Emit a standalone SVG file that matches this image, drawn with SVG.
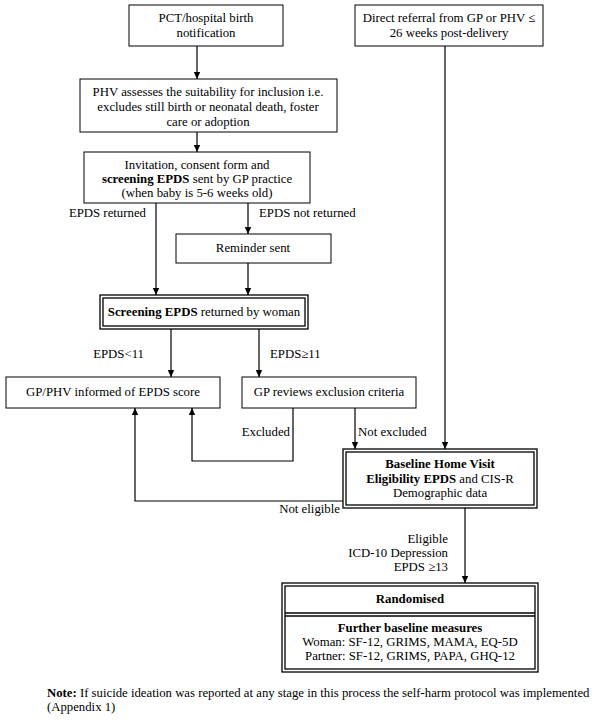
<svg xmlns="http://www.w3.org/2000/svg" width="600" height="720" viewBox="0 0 600 720">
<style>
text{font-family:"Liberation Serif","Times New Roman",serif;font-size:12.8px;fill:#000}
.c{text-anchor:middle}
.e{text-anchor:end}
.b{font-weight:bold}
.box{fill:#fff;stroke:#000;stroke-width:1}
.dbl{fill:none;stroke:#000;stroke-width:1.3}
.ln{fill:none;stroke:#000;stroke-width:1.2}
</style>
<defs>
<marker id="ah" markerWidth="8" markerHeight="8" refX="7" refY="4" orient="auto" markerUnits="userSpaceOnUse">
<path d="M0,0.8 L7,4 L0,7.2 Z" fill="#000"/>
</marker>
</defs>
<rect width="600" height="720" fill="#fff"/>
<g id="connectors">
<line class="ln" x1="197" y1="46" x2="197" y2="79" marker-end="url(#ah)"/>
<line class="ln" x1="445" y1="46" x2="445" y2="449" marker-end="url(#ah)"/>
<line class="ln" x1="197" y1="132" x2="197" y2="152" marker-end="url(#ah)"/>
<line class="ln" x1="156" y1="203" x2="156" y2="295" marker-end="url(#ah)"/>
<line class="ln" x1="248" y1="203" x2="248" y2="234" marker-end="url(#ah)"/>
<line class="ln" x1="248" y1="263" x2="248" y2="295" marker-end="url(#ah)"/>
<line class="ln" x1="171" y1="329" x2="171" y2="377" marker-end="url(#ah)"/>
<line class="ln" x1="259" y1="329" x2="259" y2="377" marker-end="url(#ah)"/>
<polyline class="ln" points="293,408 293,461 192,461 192,408" marker-end="url(#ah)"/>
<line class="ln" x1="355" y1="408" x2="355" y2="449" marker-end="url(#ah)"/>
<polyline class="ln" points="343,501 135,501 135,408" marker-end="url(#ah)"/>
<line class="ln" x1="465" y1="508" x2="465" y2="583" marker-end="url(#ah)"/>
<text x="146" y="217" class="e">EPDS returned</text>
<text x="259" y="217">EPDS not returned</text>
<text x="144" y="358" class="e">EPDS&lt;11</text>
<text x="270" y="358">EPDS≥11</text>
<text x="290" y="436" class="e">Excluded</text>
<text x="358" y="436">Not excluded</text>
<text x="340" y="513" class="e">Not eligible</text>
<text x="448" y="543" class="e">Eligible</text>
<text x="448" y="557" class="e">ICD-10 Depression</text>
<text x="448" y="571" class="e">EPDS ≥13</text>
</g>
<g id="n-pct">
<rect class="box" x="129" y="5" width="154" height="41"/>
<text x="206" y="22" class="c">PCT/hospital birth</text>
<text x="206" y="37" class="c">notification</text>
</g>
<g id="n-direct">
<rect class="box" x="355" y="5" width="188" height="41"/>
<text x="449" y="22" class="c">Direct referral from GP or PHV ≤</text>
<text x="449" y="37" class="c">26 weeks post-delivery</text>
</g>
<g id="n-phv">
<rect class="box" x="80" y="79" width="257" height="53"/>
<text x="208" y="96" class="c">PHV assesses the suitability for inclusion i.e.</text>
<text x="208" y="111" class="c">excludes still birth or neonatal death, foster</text>
<text x="208" y="126" class="c">care or adoption</text>
</g>
<g id="n-invite">
<rect class="box" x="84" y="152" width="226" height="51"/>
<text x="197" y="169" class="c">Invitation, consent form and</text>
<text x="197" y="183" class="c"><tspan class="b">screening EPDS</tspan> sent by GP practice</text>
<text x="197" y="197" class="c">(when baby is 5-6 weeks old)</text>
</g>
<g id="n-reminder">
<rect class="box" x="176" y="234" width="155" height="29"/>
<text x="253" y="252" class="c">Reminder sent</text>
</g>
<g id="n-screening">
<rect class="dbl" x="100" y="295" width="208" height="34"/>
<rect class="dbl" x="103" y="298" width="202" height="28"/>
<text x="204" y="316" class="c"><tspan class="b">Screening EPDS</tspan> returned by woman</text>
</g>
<g id="n-gpphv">
<rect class="box" x="6" y="377" width="214" height="31"/>
<text x="113" y="396" class="c">GP/PHV informed of EPDS score</text>
</g>
<g id="n-gpreview">
<rect class="box" x="242" y="377" width="174" height="31"/>
<text x="329" y="396" class="c">GP reviews exclusion criteria</text>
</g>
<g id="n-baseline">
<rect class="dbl" x="343" y="449" width="194" height="59"/>
<rect class="dbl" x="346" y="452" width="188" height="53"/>
<text x="440" y="468" class="c b">Baseline Home Visit</text>
<text x="440" y="483" class="c"><tspan class="b">Eligibility EPDS</tspan> and CIS-R</text>
<text x="440" y="497" class="c">Demographic data</text>
</g>
<g id="n-random">
<rect class="dbl" x="282" y="583" width="256" height="89"/>
<rect class="dbl" x="285" y="586" width="250" height="83"/>
<line class="dbl" x1="285" y1="613" x2="535" y2="613"/>
<line class="dbl" x1="285" y1="616" x2="535" y2="616"/>
<text x="410" y="603" class="c b">Randomised</text>
<text x="410" y="632" class="c b">Further baseline measures</text>
<text x="410" y="646" class="c">Woman: SF-12, GRIMS, MAMA, EQ-5D</text>
<text x="410" y="660" class="c">Partner: SF-12, GRIMS, PAPA, GHQ-12</text>
</g>
<g id="note">
<text x="47" y="697" style="font-size:12.75px"><tspan class="b">Note:</tspan> If suicide ideation was reported at any stage in this process the self-harm protocol was implemented</text>
<text x="47" y="711" style="font-size:12.75px">(Appendix 1)</text>
</g>
</svg>
